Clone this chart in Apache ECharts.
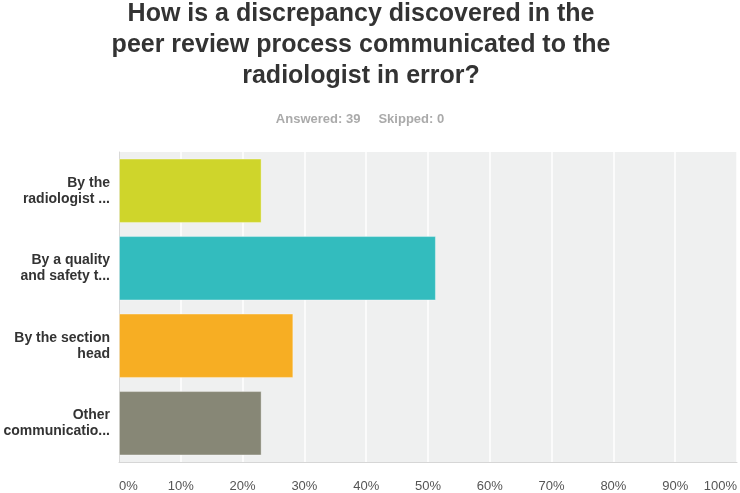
<!DOCTYPE html>
<html>
<head>
<meta charset="utf-8">
<script src="https://cdn.jsdelivr.net/npm/echarts@6/dist/echarts.min.js"></script>
<style>
  html, body { margin: 0; padding: 0; background: #fff; }
  #container { width: 740px; height: 493px; }
</style>
</head>
<body>
<div id="container"></div>
<script>
// data
var categories = ['By the\nradiologist ...', 'By a quality\nand safety t...', 'By the section\nhead', 'Other\ncommunicatio...'];
var percents = [23.08, 51.28, 28.21, 23.08];
var barColors = ['#cfd52b', '#33bcbe', '#f7ae23', '#878776'];
var tickLabels = ['0%', '10%', '20%', '30%', '40%', '50%', '60%', '70%', '80%', '90%', '100%'];

var dom = document.getElementById('container');
var myChart = echarts.init(dom, null, { renderer: 'canvas' });

var option = {
  animation: false,
  title: [
    {
      text: 'How is a discrepancy discovered in the\npeer review process communicated to the\nradiologist in error?',
      left: 356,
      textAlign: 'center',
      top: -6,
      textStyle: {
        fontFamily: 'Liberation Sans, Arial, sans-serif',
        fontSize: 25,
        fontWeight: 'bold',
        color: '#333',
        lineHeight: 31
      }
    },
    {
      text: 'Answered: 39     Skipped: 0',
      left: 355,
      textAlign: 'center',
      top: 108,
      textStyle: {
        fontFamily: 'Liberation Sans, Arial, sans-serif',
        fontSize: 13,
        fontWeight: 'bold',
        color: '#aaaaaa'
      }
    }
  ],
  grid: {
    left: 119,
    right: 1,
    top: 152,
    bottom: 31,
    show: true,
    backgroundColor: '#eff0f0',
    borderWidth: 0
  },
  xAxis: {
    type: 'value',
    min: 0,
    max: 100,
    interval: 10,
    axisLine: { show: true, lineStyle: { color: '#d6d6d6', width: 1 } },
    axisTick: { show: false },
    splitLine: { show: true, lineStyle: { color: '#ffffff', width: 1.5 } },
    axisLabel: {
      margin: 18,
      fontFamily: 'Liberation Sans, Arial, sans-serif',
      fontSize: 13,
      color: '#555',
      alignMinLabel: 'left',
      alignMaxLabel: 'right',
      formatter: function (v) { return tickLabels[Math.round(v / 10)]; }
    }
  },
  yAxis: {
    type: 'category',
    inverse: true,
    data: categories,
    axisLine: { show: true, lineStyle: { color: '#d8d8d8' } },
    axisTick: { show: false },
    axisLabel: {
      margin: 9,
      fontFamily: 'Liberation Sans, Arial, sans-serif',
      fontSize: 14,
      fontWeight: 'bold',
      color: '#333',
      lineHeight: 16
    }
  },
  series: [
    {
      type: 'bar',
      data: percents.map(function (v, i) {
        return { value: v, itemStyle: { color: barColors[i] } };
      }),
      barCategoryGap: '17%',
      itemStyle: { borderColor: 'rgba(255,255,255,0.35)', borderWidth: 1 }
    }
  ]
};

myChart.setOption(option);
window.addEventListener('resize', myChart.resize);
</script>
</body>
</html>
